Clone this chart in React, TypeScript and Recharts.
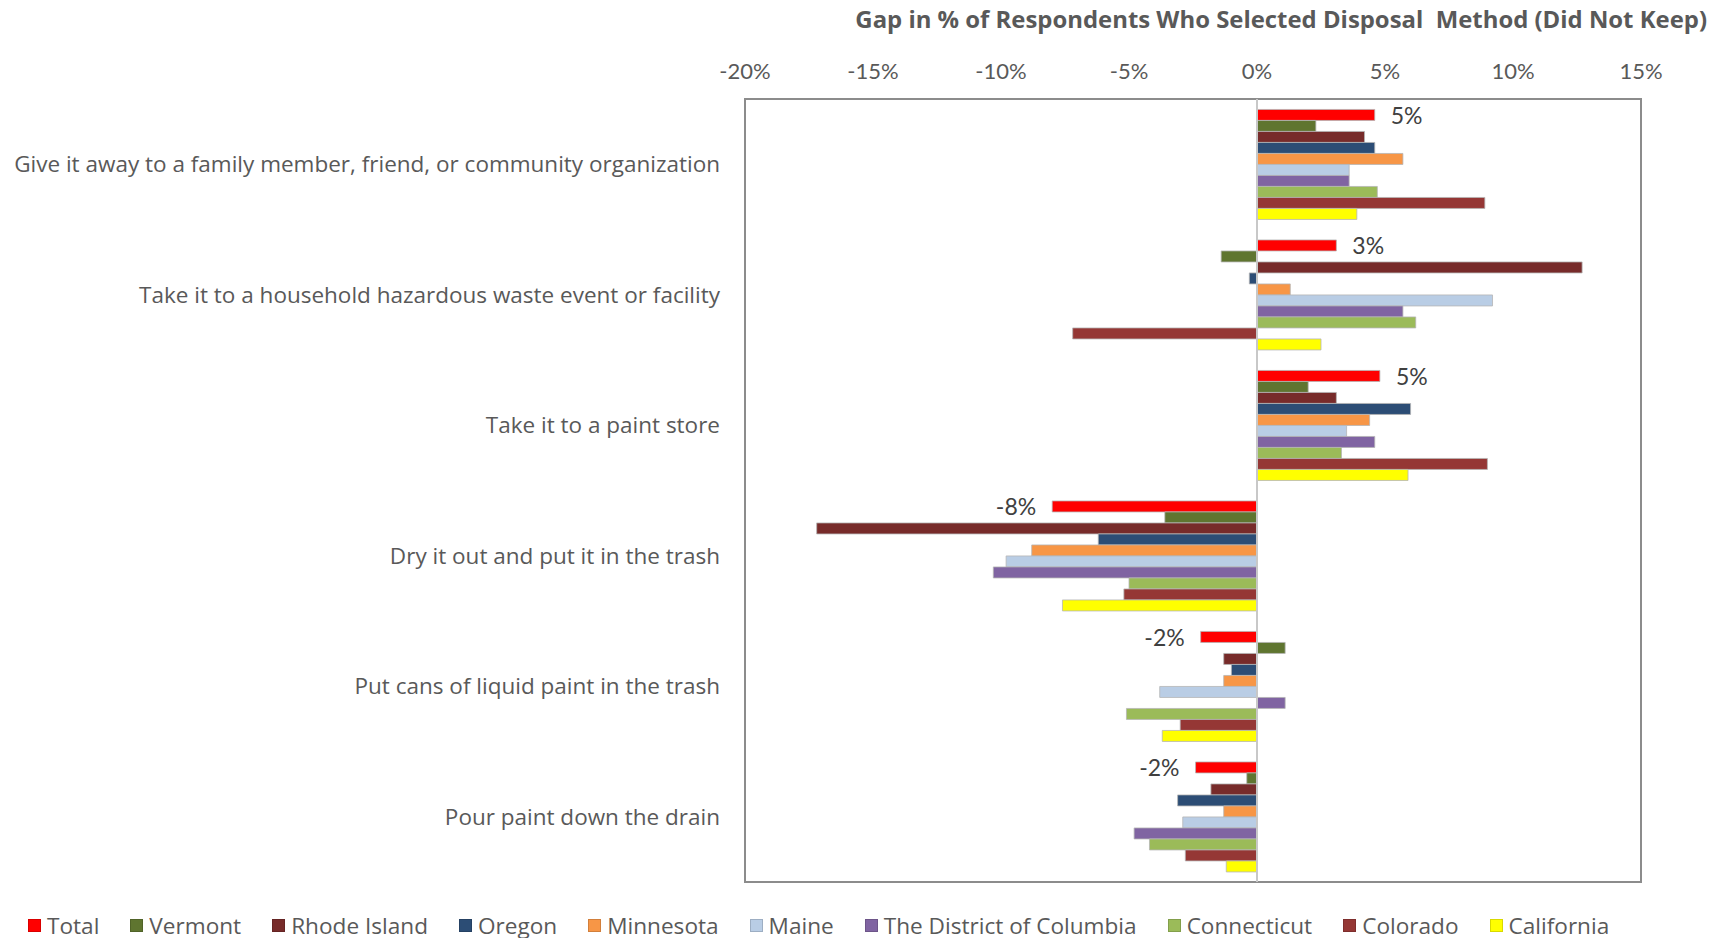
import { BarChart, Bar, XAxis, YAxis, Legend, ReferenceLine, ReferenceArea, LabelList } from 'recharts';

// Category labels, top to bottom
const CATEGORIES = [
  'Give it away to a family member, friend, or community organization',
  'Take it to a household hazardous waste event or facility',
  'Take it to a paint store',
  'Dry it out and put it in the trash',
  'Put cans of liquid paint in the trash',
  'Pour paint down the drain',
];

// Gap values in percentage points, one per category
const TOTAL = [4.6, 3.1, 4.8, -8.0, -2.2, -2.4];
const VERMONT = [2.3, -1.4, 2.0, -3.6, 1.1, -0.4];
const RHODE_ISLAND = [4.2, 12.7, 3.1, -17.2, -1.3, -1.8];
const OREGON = [4.6, -0.3, 6.0, -6.2, -1.0, -3.1];
const MINNESOTA = [5.7, 1.3, 4.4, -8.8, -1.3, -1.3];
const MAINE = [3.6, 9.2, 3.5, -9.8, -3.8, -2.9];
const DC = [3.6, 5.7, 4.6, -10.3, 1.1, -4.8];
const CONNECTICUT = [4.7, 6.2, 3.3, -5.0, -5.1, -4.2];
const COLORADO = [8.9, -7.2, 9.0, -5.2, -3.0, -2.8];
const CALIFORNIA = [3.9, 2.5, 5.9, -7.6, -3.7, -1.2];

const X_TICKS = [-20, -15, -10, -5, 0, 5, 10, 15];

const SERIES = [
  { key: 'Total', values: TOTAL, color: '#FF0000' },
  { key: 'Vermont', values: VERMONT, color: '#5F7530' },
  { key: 'Rhode Island', values: RHODE_ISLAND, color: '#772B2A' },
  { key: 'Oregon', values: OREGON, color: '#2C4D75' },
  { key: 'Minnesota', values: MINNESOTA, color: '#F79646' },
  { key: 'Maine', values: MAINE, color: '#B9CDE5' },
  { key: 'The District of Columbia', values: DC, color: '#8064A2' },
  { key: 'Connecticut', values: CONNECTICUT, color: '#9BBB59' },
  { key: 'Colorado', values: COLORADO, color: '#953735' },
  { key: 'California', values: CALIFORNIA, color: '#FFFF00' },
];

const data = CATEGORIES.map((category, i) => {
  const row: Record<string, string | number> = { category };
  SERIES.forEach((s) => {
    row[s.key] = s.values[i];
  });
  return row;
});

const NARROW = 'Lato, "Open Sans", sans-serif';
const WIDE = '"Open Sans", Lato, sans-serif';
const TEXT = '#595959';

function TotalLabel(props: any) {
  const { x, y, width, height, value } = props;
  const x0 = Number(x);
  const w = Number(width);
  const v = Number(value);
  const end = v >= 0 ? Math.max(x0, x0 + w) : Math.min(x0, x0 + w);
  const pos = v >= 0;
  return (
    <text
      x={pos ? end + 16 : end - 16}
      y={Number(y) + Number(height) / 2}
      textAnchor={pos ? 'start' : 'end'}
      dominantBaseline="central"
      fontSize={23}
      fontFamily={NARROW}
      fill="#404040"
    >
      {`${Math.round(v)}%`}
    </text>
  );
}

function LegendContent({ payload }: any) {
  // keep the series order, not the alphabetical one
  const order = SERIES.map((s) => s.key);
  const items = [...(payload || [])].sort(
    (a: any, b: any) => order.indexOf(a.value) - order.indexOf(b.value)
  );
  return (
    <div
      style={{
        height: 56,
        display: 'flex',
        alignItems: 'flex-end',
        paddingLeft: 28,
        boxSizing: 'border-box',
      }}
    >
      {items.map((p: any) => (
        <div
          key={p.value}
          style={{ display: 'flex', alignItems: 'center', marginRight: 31, height: 26 }}
        >
          <span
            style={{
              width: 13,
              height: 13,
              background: p.color,
              boxSizing: 'border-box',
              border: '1px solid rgba(0,0,0,0.15)',
              marginRight: 6,
            }}
          />
          <span style={{ fontFamily: WIDE, fontSize: 22.6, color: TEXT, whiteSpace: 'nowrap' }}>{p.value}</span>
        </div>
      ))}
    </div>
  );
}

export default function App() {
  return (
    <div style={{ position: 'absolute', left: 0, top: 0, width: 1729, height: 938, background: '#fff' }}>
      <div
        style={{
          position: 'absolute',
          right: 22,
          top: 2,
          fontFamily: WIDE,
          fontWeight: 'bold',
          fontSize: 23.9,
          color: TEXT,
          whiteSpace: 'pre',
        }}
      >
        Gap in % of Respondents Who Selected Disposal  Method (Did Not Keep)
      </div>
      <BarChart
        width={1729}
        height={938}
        data={data}
        layout="vertical"
        margin={{ top: 59, right: 88, bottom: 0, left: 0 }}
        barCategoryGap="8%"
        barGap={0}
      >
        <ReferenceArea x1={-20} x2={15} fill="none" stroke="#8c8c8c" strokeWidth={2} />
        <XAxis
          type="number"
          orientation="top"
          domain={[-20, 15]}
          ticks={X_TICKS}
          tickFormatter={(v) => `${v}%`}
          axisLine={false}
          tickLine={false}
          tickSize={0}
          tickMargin={20}
          height={40}
          interval={0}
          tick={{ fill: TEXT, fontSize: 22, fontFamily: NARROW }}
        />
        <YAxis
          type="category"
          dataKey="category"
          width={745}
          axisLine={false}
          tickLine={false}
          tickSize={0}
          tickMargin={25}
          interval={0}
          tick={{ fill: TEXT, fontSize: 22.5, fontFamily: WIDE }}
        />
        <Legend verticalAlign="bottom" content={<LegendContent />} />
        {SERIES.map((s) => (
          <Bar
            key={s.key}
            dataKey={s.key}
            name={s.key}
            fill={s.color}
            stroke="#b5b5b5"
            strokeWidth={0.8}
            isAnimationActive={false}
          >
            {s.key === 'Total' && <LabelList dataKey="Total" content={<TotalLabel />} />}
          </Bar>
        ))}
        <ReferenceLine x={0} stroke="#c8c8c8" strokeWidth={2} />
      </BarChart>
    </div>
  );
}
